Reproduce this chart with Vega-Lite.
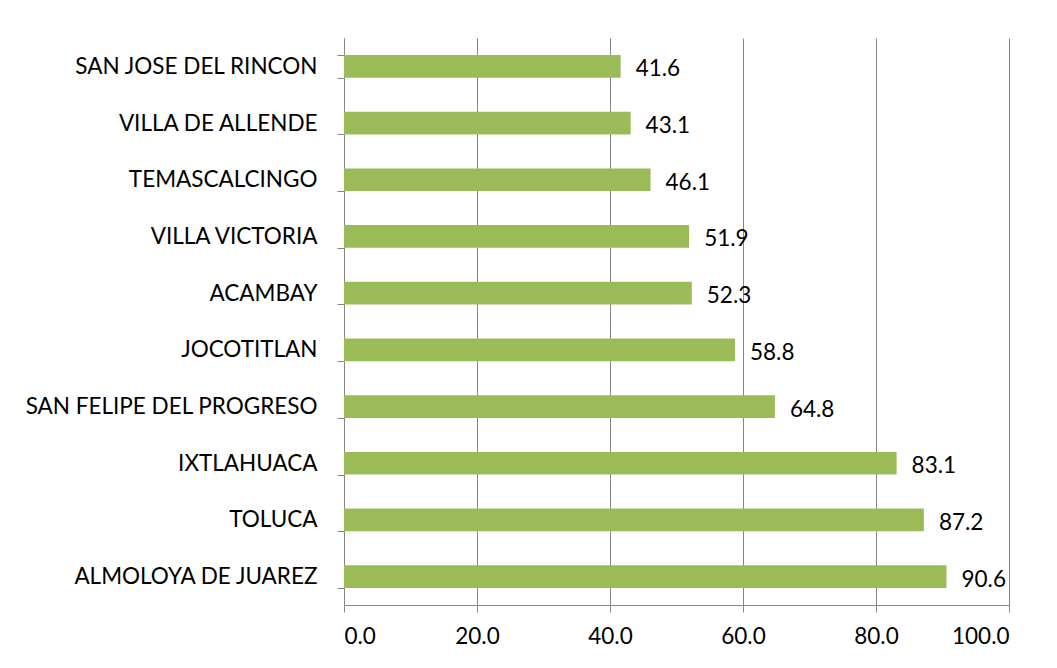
{
  "$schema": "https://vega.github.io/schema/vega-lite/v6.json",
  "width": 665,
  "height": 567,
  "autosize": {"type": "none"},
  "padding": {"left": 344, "top": 38, "right": 48, "bottom": 63},
  "background": "white",
  "config": {
    "view": {"stroke": null},
    "font": "Lato",
    "axis": {"labelFont": "Lato", "labelFontSize": 22.5, "labelFontWeight": "normal", "labelColor": "#000000", "domainColor": "#868686", "tickColor": "#868686", "gridColor": "#868686", "title": null}
  },
  "data": {
    "values": [
      {"name": "SAN JOSE DEL RINCON", "value": 41.6},
      {"name": "VILLA DE ALLENDE", "value": 43.1},
      {"name": "TEMASCALCINGO", "value": 46.1},
      {"name": "VILLA VICTORIA", "value": 51.9},
      {"name": "ACAMBAY", "value": 52.3},
      {"name": "JOCOTITLAN", "value": 58.8},
      {"name": "SAN FELIPE DEL PROGRESO", "value": 64.8},
      {"name": "IXTLAHUACA", "value": 83.1},
      {"name": "TOLUCA", "value": 87.2},
      {"name": "ALMOLOYA DE JUAREZ", "value": 90.6}
    ]
  },
  "encoding": {
    "y": {
      "field": "name", "type": "nominal", "sort": null,
      "scale": {"paddingInner": 0.6, "paddingOuter": 0.3},
      "axis": {"ticks": true, "tickSize": 7, "tickBand": "extent", "labelPadding": 20, "labelLimit": 400, "grid": false, "domainWidth": 1}
    },
    "x": {
      "field": "value", "type": "quantitative",
      "scale": {"domain": [0, 100], "nice": false},
      "axis": {"values": [0, 20, 40, 60, 80, 100], "format": ".1f", "tickSize": 7, "labelPadding": 13, "grid": true, "gridWidth": 1}
    }
  },
  "layer": [
    {"mark": {"type": "bar", "color": "#9BBB59"}},
    {
      "mark": {"type": "text", "align": "left", "baseline": "middle", "dx": 15, "dy": 3, "fontSize": 22.5, "color": "#000000", "font": "Lato"},
      "encoding": {"text": {"field": "value", "type": "quantitative", "format": ".1f"}}
    }
  ]
}
